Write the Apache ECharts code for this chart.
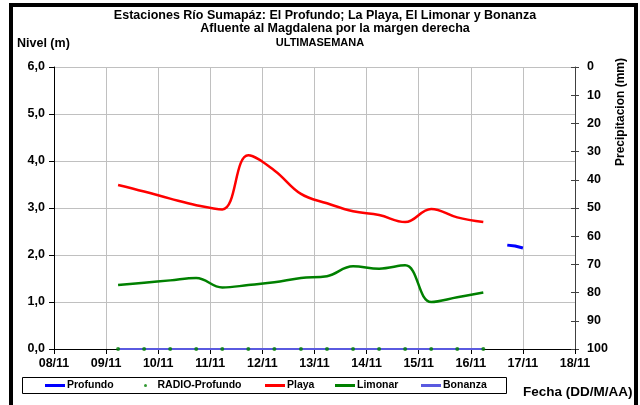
<!DOCTYPE html>
<html>
<head>
<meta charset="utf-8">
<script src="https://cdn.jsdelivr.net/npm/echarts@6/dist/echarts.min.js"></script>
<style>
html, body { margin: 0; padding: 0; background: #fff; }
#chart { width: 640px; height: 405px; }
</style>
</head>
<body>
<div id="chart"></div>
<script>
// dias desde 08/11 00:00
var dateLabels = ['08/11', '09/11', '10/11', '11/11', '12/11', '13/11', '14/11', '15/11', '16/11', '17/11', '18/11'];
var horas = [1.23, 1.73, 2.23, 2.73, 3.23, 3.73, 4.23, 4.74, 5.24, 5.74, 6.24, 6.74, 7.24, 7.74, 8.24];
var playa = [3.49, 3.35, 3.20, 3.06, 2.97, 4.12, 3.80, 3.30, 3.10, 2.93, 2.85, 2.70, 2.98, 2.80, 2.70];
var limonar = [1.36, 1.41, 1.46, 1.51, 1.31, 1.36, 1.42, 1.51, 1.55, 1.76, 1.71, 1.78, 1.00, 1.10, 1.20];
var radioProfundo = [0, 0, 0, 0, 0, 0, 0, 0, 0, 0, 0, 0, 0, 0, 0];
var bonanza = [0, 0, 0, 0, 0, 0, 0, 0, 0, 0, 0, 0, 0, 0, 0];
var profundoHoras = [8.70, 8.85, 9.00];
var profundo = [2.21, 2.19, 2.15];

var nombres = ['Profundo', 'RADIO-Profundo', 'Playa', 'Limonar', 'Bonanza'];

function pares(xs, ys) {
    var res = [];
    for (var i = 0; i < xs.length; i++) {
        res.push([xs[i], ys[i]]);
    }
    return res;
}

var myChart = echarts.init(document.getElementById('chart'));
var fuente = 'Liberation Sans, Arial, sans-serif';
var gris = '#c0c0c0';

// una leyenda por entrada, dentro de un marco comun
var posLeyenda = [45, 144, 265, 335, 421];
var leyendas = nombres.map(function (n, i) {
    return {
        left: posLeyenda[i],
        top: 380,
        padding: 0,
        itemWidth: 20,
        itemHeight: 3,
        icon: n === 'RADIO-Profundo' ? 'circle' : 'rect',
        textStyle: { fontFamily: fuente, fontWeight: 'bold', fontSize: 10.5, color: '#000', padding: [0, 0, 0, -3] },
        data: [n]
    };
});

option = {
    backgroundColor: '#fff',
    animation: false,
    textStyle: { fontFamily: fuente },
    grid: { left: 54, right: 65, top: 67, bottom: 56 },
    graphic: [
        { type: 'rect', shape: { x: 11, y: 5, width: 625, height: 410 },
          style: { fill: 'none', stroke: '#000', lineWidth: 4 } },
        { type: 'rect', shape: { x: 22.5, y: 377.5, width: 484, height: 16 },
          style: { fill: 'none', stroke: '#000', lineWidth: 1 } },
        { type: 'text', x: 325, y: 16, style: { text: 'Estaciones Río Sumapáz: El Profundo; La Playa, El Limonar y Bonanza',
          font: 'bold 12.5px ' + fuente, fill: '#000', textAlign: 'center', textVerticalAlign: 'middle' } },
        { type: 'text', x: 335, y: 29, style: { text: 'Afluente al Magdalena por la margen derecha',
          font: 'bold 12.5px ' + fuente, fill: '#000', textAlign: 'center', textVerticalAlign: 'middle' } },
        { type: 'text', x: 320, y: 43, style: { text: 'ULTIMASEMANA',
          font: 'bold 11px ' + fuente, fill: '#000', textAlign: 'center', textVerticalAlign: 'middle' } },
        { type: 'text', x: 17, y: 44, style: { text: 'Nivel (m)',
          font: 'bold 12.5px ' + fuente, fill: '#000', textAlign: 'left', textVerticalAlign: 'middle' } },
        { type: 'text', x: 621, y: 112, rotation: Math.PI / 2, style: { text: 'Precipitacion (mm)',
          font: 'bold 12px ' + fuente, fill: '#000', textAlign: 'center', textVerticalAlign: 'middle' } },
        { type: 'text', x: 523, y: 392, style: { text: 'Fecha (DD/M/AA)',
          font: 'bold 13.5px ' + fuente, fill: '#000', textAlign: 'left', textVerticalAlign: 'middle' } }
    ],
    legend: leyendas,
    xAxis: {
        type: 'value',
        min: 0,
        max: 10,
        interval: 1,
        axisLine: { show: true, lineStyle: { color: '#000', width: 1 } },
        axisTick: { show: true, length: 5, lineStyle: { color: '#000' } },
        axisLabel: {
            margin: 8,
            color: '#000',
            fontWeight: 'bold',
            fontSize: 12.5,
            fontFamily: fuente,
            formatter: function (v) { return dateLabels[Math.round(v)]; }
        },
        splitLine: { show: true, lineStyle: { color: gris, width: 1 } }
    },
    yAxis: [
        {
            type: 'value',
            min: 0,
            max: 6,
            interval: 1,
            axisLine: { show: true, lineStyle: { color: '#000', width: 1 } },
            axisTick: { show: true, length: 5, lineStyle: { color: '#000' } },
            axisLabel: {
                margin: 9,
                color: '#000',
                fontWeight: 'bold',
                fontSize: 12.5,
                fontFamily: fuente,
                formatter: function (v) { return v.toFixed(1).replace('.', ','); }
            },
            splitLine: { show: true, lineStyle: { color: gris, width: 1 } }
        },
        {
            type: 'value',
            position: 'right',
            inverse: true,
            min: 0,
            max: 100,
            interval: 10,
            axisLine: { show: true, lineStyle: { color: '#404040', width: 1 } },
            axisTick: { show: true, length: 4, lineStyle: { color: '#404040' } },
            axisLabel: { margin: 12, color: '#000', fontWeight: 'bold', fontSize: 12.5, fontFamily: fuente },
            splitLine: { show: false }
        },
        {
            type: 'value',
            position: 'right',
            inverse: true,
            min: 0,
            max: 100,
            interval: 10,
            axisLine: { show: false },
            axisTick: { show: true, inside: true, length: 4, lineStyle: { color: '#404040' } },
            axisLabel: { show: false },
            splitLine: { show: false }
        }
    ],
    series: [
        {
            name: 'Profundo',
            type: 'line',
            data: pares(profundoHoras, profundo),
            showSymbol: false,
            itemStyle: { color: '#0000ff' },
            lineStyle: { color: '#0000ff', width: 3 }
        },
        {
            name: 'RADIO-Profundo',
            type: 'scatter',
            data: pares(horas, radioProfundo),
            symbolSize: 4,
            itemStyle: { color: '#008000' },
            z: 4
        },
        {
            name: 'Playa',
            type: 'line',
            data: pares(horas, playa),
            smooth: 0.4,
            showSymbol: false,
            itemStyle: { color: '#ff0000' },
            lineStyle: { color: '#ff0000', width: 2.5 }
        },
        {
            name: 'Limonar',
            type: 'line',
            data: pares(horas, limonar),
            smooth: 0.4,
            showSymbol: false,
            itemStyle: { color: '#008000' },
            lineStyle: { color: '#008000', width: 2.5 }
        },
        {
            name: 'Bonanza',
            type: 'line',
            data: pares(horas, bonanza),
            showSymbol: false,
            itemStyle: { color: '#5a5ae0' },
            lineStyle: { color: '#5a5ae0', width: 2 },
            z: 3
        }
    ]
};

myChart.setOption(option);
window.addEventListener('resize', function () {
    myChart.resize();
});
</script>
</body>
</html>
